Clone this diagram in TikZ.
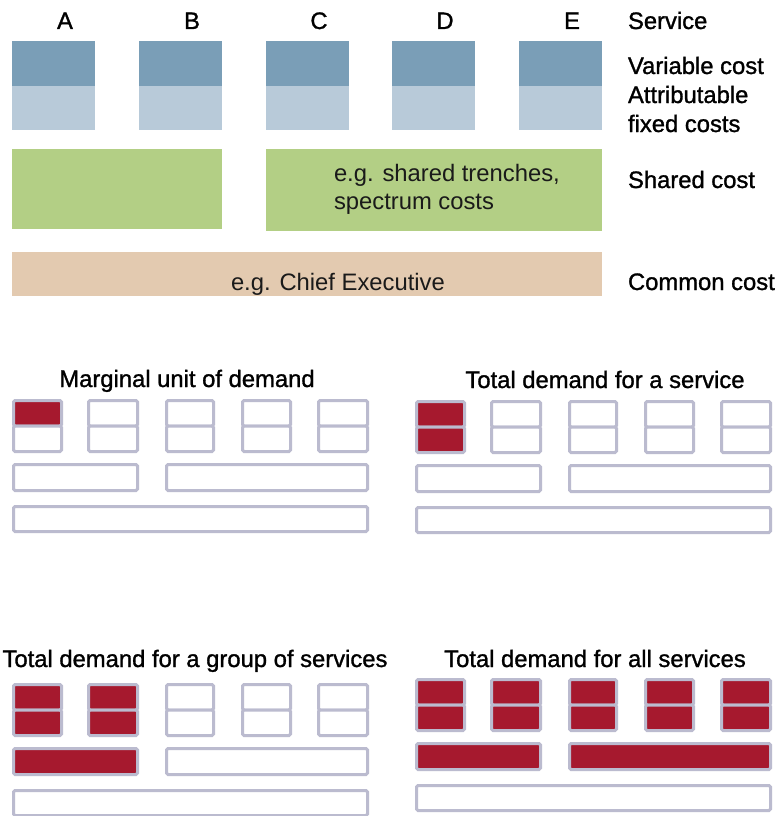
\documentclass[tikz,border=0pt]{standalone}
\usepackage{fontspec}
\setmainfont{Liberation Sans}
\newfontfamily\heavyfont[FakeBold=1.2]{Liberation Sans}
\definecolor{vdark}{HTML}{7A9EB7}
\definecolor{vlight}{HTML}{B8CAD9}
\definecolor{sgreen}{HTML}{B3CF85}
\definecolor{ctan}{HTML}{E3CAB0}
\definecolor{dred}{HTML}{A6192E}
\definecolor{pgray}{HTML}{BBBBCF}
\definecolor{egtext}{HTML}{1A1A1A}
\newcommand\cbx[6]{\node[#6,minimum width={(#4)-(#2)},minimum height={(#5)-(#3)}] (#1) at ({((#2)+(#4))/2},{((#3)+(#5))/2}) {};}
\newcommand\demandpanel[6]{%
  \foreach \i/\xa/\xb in {1/13.5/61.5,2/88.5/137.5,3/166.5/213.5,4/242.5/290.5,5/318.5/367.5}{%
    \ifnum\i>#4\relax\def\fc{white}\else\def\fc{dred}\fi
    \cbx{#1t\i}{#2+\xa}{#3+1.5}{#2+\xb}{#3+27}{pbox,fill=\fc}
    \ifnum\i>#5\relax\def\fc{white}\else\def\fc{dred}\fi
    \cbx{#1b\i}{#2+\xa}{#3+27}{#2+\xb}{#3+52.5}{pbox,fill=\fc}
  }
  \ifnum#6>0\relax\def\fc{dred}\else\def\fc{white}\fi
  \cbx{#1s1}{#2+13.5}{#3+65.5}{#2+137.5}{#3+91.5}{pbox,fill=\fc}
  \ifnum#6>1\relax\def\fc{dred}\else\def\fc{white}\fi
  \cbx{#1s2}{#2+166.5}{#3+65.5}{#2+367.5}{#3+91.5}{pbox,fill=\fc}
  \cbx{#1c}{#2+13.5}{#3+107.5}{#2+367.5}{#3+132.5}{pbox,fill=white}
}
\begin{document}
\begin{tikzpicture}[x=1pt,y=-1pt,
  every node/.style={font=\fontsize{23.8}{28.5}\selectfont,inner sep=0pt,outer sep=0pt},
  blk/.style={draw=none},
  pbox/.style={draw=pgray,line width=3pt,rounded corners=1.5pt},
  lbl/.style={anchor=base west,font=\fontsize{23.8}{28.5}\selectfont\heavyfont},
  eg/.style={anchor=base west,text=egtext},
  ttl/.style={anchor=base,font=\fontsize{23.8}{28.5}\selectfont\heavyfont}]
\useasboundingbox[fill=white] (0,0) rectangle (778,816);
% service letters
\node[ttl] (lA) at (65,29) {A};
\node[ttl] (lB) at (192,29) {B};
\node[ttl] (lC) at (319,29) {C};
\node[ttl] (lD) at (445,29) {D};
\node[ttl] (lE) at (572,29) {E};
% variable / attributable
\foreach \n/\xa/\xb in {A/12/95,B/139/222,C/266/349,D/392/475,E/519/602}{
  \cbx{v\n}{\xa}{41}{\xb}{86}{blk,fill=vdark}
  \cbx{f\n}{\xa}{86}{\xb}{130}{blk,fill=vlight}
}
% shared
\cbx{shL}{12}{149}{222}{229}{blk,fill=sgreen}
\cbx{shR}{266}{149}{602}{231}{blk,fill=sgreen}
\node[eg] (sh1) at (334,181) {e.g. shared trenches,};
\node[eg] (sh2) at (334,209) {spectrum costs};
% common
\cbx{com}{12}{252}{602}{296}{blk,fill=ctan}
\node[eg] (comt) at (231,290) {e.g. Chief Executive};
% right labels
\node[lbl] (rServ) at (628,29) {Service};
\node[lbl] (rVar) at (628,74) {Variable cost};
\node[lbl] (rAtt) at (628,103) {Attributable};
\node[lbl] (rFix) at (628,132) {fixed costs};
\node[lbl] (rSh) at (628,188) {Shared cost};
\node[lbl] (rCom) at (628,290) {Common cost};
% panels
\node[ttl] (t1) at (187,387) {Marginal unit of demand};
\demandpanel{pa}{0}{399}{1}{0}{0}
\node[ttl] (t2) at (605,388) {Total demand for a service};
\demandpanel{pb}{403}{400}{1}{1}{0}
\node[ttl] (t3) at (195,667) {Total demand for a group of services};
\demandpanel{pc}{0}{683}{2}{2}{1}
\node[ttl] (t4) at (595,667) {Total demand for all services};
\demandpanel{pd}{403}{678}{5}{5}{2}
\end{tikzpicture}
\end{document}
